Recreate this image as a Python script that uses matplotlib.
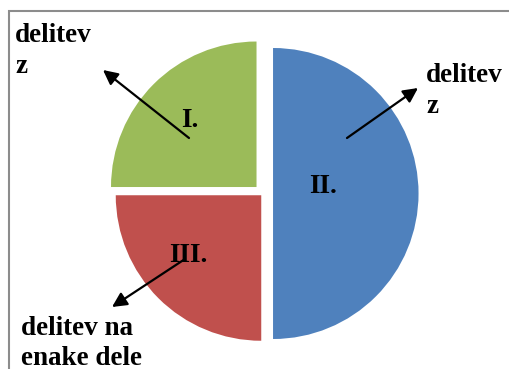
import matplotlib
matplotlib.use("Agg")
import matplotlib.pyplot as plt
from matplotlib.patches import Rectangle

# Slice data (clockwise from 12 o'clock)
slice_names = ["II.", "III.", "I."]
slice_values = [50, 25, 25]
slice_colors = ["#4F81BD", "#C0504D", "#9BBB59"]
slice_explode = [0.069, 0.017, 0.063]  # fraction of radius

# Annotation texts
callout_texts = [["delitev", "z"], ["delitev", "z"], ["delitev na", "enake dele"]]

W, H = 509, 369
fig = plt.figure(figsize=(W / 100, H / 100), dpi=100)
ax = fig.add_axes([0, 0, 1, 1])

def Y(py):
    return H - py

# Outer frame
fig.patches.append(Rectangle((9 / W, -0.1), 1.2, (H - 11) / H + 0.1,
                             transform=fig.transFigure, fill=False,
                             edgecolor="#8c8c8c", linewidth=1.5))

R = 145.5
ax.pie(slice_values, colors=slice_colors,
       explode=[e * R for e in slice_explode],
       startangle=90, counterclock=False, center=(263, Y(193.5)),
       radius=R, wedgeprops=dict(linewidth=0), frame=True)
ax.set_xlim(0, W)
ax.set_ylim(0, H)
ax.set_aspect("auto")
ax.axis("off")

font = dict(family="Liberation Serif", fontweight="bold", fontsize=19.5, color="black")

# Slice names
name_pos = {"I.": (190, 127), "II.": (323, 193), "III.": (188, 262)}
for name in slice_names:
    x, y = name_pos[name]
    ax.text(x, Y(y), name, ha="center", va="baseline", **font)

# Arrows
arrows = [((189, 138), (103, 70)), ((347, 138), (418, 88)), ((185, 259), (112, 307))]
for (x0, y0), (x1, y1) in arrows:
    ax.annotate("", xy=(x1, Y(y1)), xytext=(x0, Y(y0)),
                arrowprops=dict(arrowstyle="-|>", color="black", lw=1.6,
                                mutation_scale=22, shrinkA=0, shrinkB=0))

# Callout texts
text_pos = [(15, [42, 73]), (426, [82, 113]), (21, [335, 365])]
for lines, (x, ys) in zip(callout_texts, text_pos):
    for line, y in zip(lines, ys):
        ax.text(x, Y(y), line, ha="left", va="baseline", **font)

fig.savefig("out.png", dpi=100)
